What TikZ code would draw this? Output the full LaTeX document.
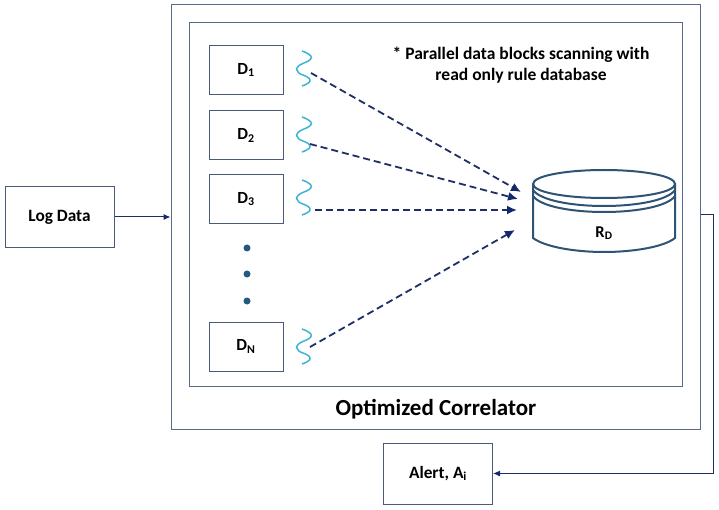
\documentclass[tikz,border=0pt]{standalone}
\usepackage{fontspec}
\setmainfont{Carlito}
\usetikzlibrary{arrows.meta}
\definecolor{boxc}{HTML}{4A5A78}
\definecolor{outerc}{HTML}{5A6A8C}
\definecolor{navy}{HTML}{1F2F66}
\definecolor{arrowc}{HTML}{14286E}
\definecolor{wavec}{HTML}{3FB4D2}
\definecolor{dbc}{HTML}{2F5373}
\definecolor{dotc}{HTML}{255A80}
\tikzset{
  x=1pt,y=-1pt,
  frame/.style={draw=outerc,line width=1pt,fill=white},
  blockbox/.style={draw=boxc,line width=1pt,fill=white,minimum width=74pt,minimum height=49pt,inner sep=0pt,font=\bfseries\fontsize{17}{19}\selectfont},
  iobox/.style={draw=boxc,line width=1pt,fill=white,inner sep=0pt,font=\bfseries\fontsize{17.3}{19}\selectfont},
  wave/.style={draw=wavec,line width=1.5pt},
  flow/.style={draw=navy,line width=1.8pt,dash pattern=on 7pt off 4pt,-{Latex[length=10pt,width=9pt,color=arrowc]}},
  link/.style={draw=navy,line width=1pt,-{Latex[length=7pt,width=6pt,color=arrowc]}},
  db/.style={draw=dbc,line width=2pt},
  ellipsisdot/.style={circle,fill=dotc,inner sep=0pt,minimum size=7pt},
  caption/.style={font=\bfseries\fontsize{17.5}{21}\selectfont,align=center},
  squiggle/.pic={\draw[wave] (2,-17) .. controls (16,-12) and (12,-8) .. (4,-5) .. controls (-7,-1) and (-4,5) .. (3,7) .. controls (14,11) and (11,15) .. (2,18);}
}
\begin{document}
\begin{tikzpicture}
\useasboundingbox (0,0) rectangle (719,510);
\node[frame,minimum width=529pt,minimum height=424pt,inner sep=0pt] (outer) at (435.5,217) {};
\node[frame,minimum width=493pt,minimum height=363pt,inner sep=0pt] (inner) at (435.5,204.5) {};
\node[blockbox] (d1) at (246,70) {D\textsubscript{1}};
\node[blockbox] (d2) at (246,135.5) {D\textsubscript{2}};
\node[blockbox] (d3) at (246,199) {D\textsubscript{3}};
\node[blockbox] (dn) at (246,346.5) {D\textsubscript{N}};
\node[ellipsisdot] (e1) at (247,248) {};
\node[ellipsisdot] (e2) at (247,274) {};
\node[ellipsisdot] (e3) at (247,301) {};
\pic at (300,68) {squiggle};
\pic at (300,134) {squiggle};
\pic at (300,197) {squiggle};
\pic at (300,346) {squiggle};
% database
\path[db,fill=white] (533,184) -- (533,238) .. controls (545,247) and (575,252) .. (604,252) .. controls (633,252) and (664,247) .. (675,238) -- (675,184);
\draw[db] (533,184) .. controls (533,192) and (565,198) .. (604,198) .. controls (643,198) and (675,192) .. (675,184) .. controls (675,176) and (643,170) .. (604,170) .. controls (565,170) and (533,176) .. (533,184) -- cycle;
\draw[db] (533,190) .. controls (540,200) and (570,206) .. (604,206) .. controls (638,206) and (668,200) .. (675,190);
\draw[db] (533,196) .. controls (540,206) and (570,212) .. (604,212) .. controls (638,212) and (668,206) .. (675,196);
\node[font=\bfseries\fontsize{16.5}{18}\selectfont,inner sep=0pt] (rd) at (604,233) {R\textsubscript{D}};
\coordinate (s1) at (311,73); \coordinate (t1) at (521,192);
\coordinate (s2) at (310,144); \coordinate (t2) at (518,199);
\coordinate (s3) at (315,210); \coordinate (t3) at (517,210);
\coordinate (s4) at (310,347); \coordinate (t4) at (515,230);
\draw[flow] (s1) -- (t1);
\draw[flow] (s2) -- (t2);
\draw[flow] (s3) -- (t3);
\draw[flow] (s4) -- (t4);
\node[caption,inner sep=0pt] (note) at (521,65) {* Parallel data blocks scanning with\\read only rule database};
\node[font=\bfseries\fontsize{23}{26}\selectfont,inner sep=0pt] (title) at (436,409) {Optimized Correlator};
\node[iobox,minimum width=109pt,minimum height=61pt] (log) at (59.5,217) {Log Data};
\node[iobox,minimum width=109pt,minimum height=61pt] (alert) at (438,473.5) {Alert, A\textsubscript{i}};
\draw[link] (log.east) -- (outer.west |- log.east);
\coordinate (exit) at (outer.east |- 0,215);
\draw[link] (exit) -- (713,215) |- (alert.east);
\end{tikzpicture}
\end{document}
